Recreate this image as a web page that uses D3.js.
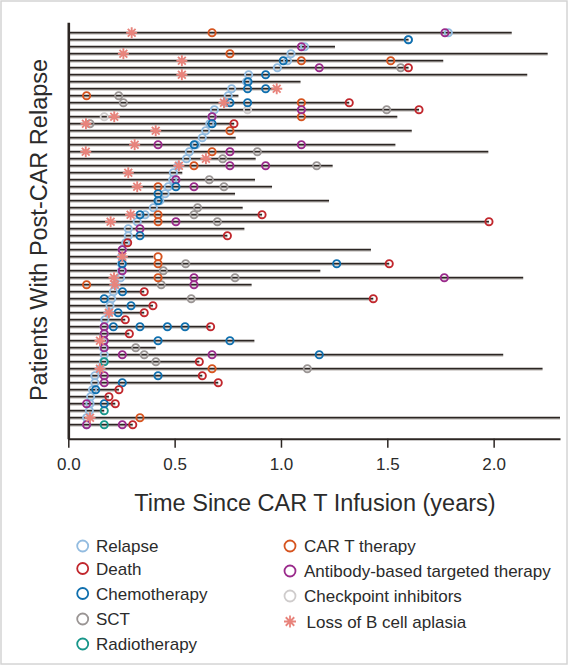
<!DOCTYPE html>
<html>
<head>
<meta charset="utf-8">
<script src="https://cdn.jsdelivr.net/npm/d3@7"></script>
<style>
  body { margin: 0; background: #fff; }
  text { font-family: "Liberation Sans", Arial, sans-serif; fill: #2b2b2b; }
</style>
</head>
<body>
<script>
// follow-up per patient (years), top row first
var rowEnd = [2.085, 1.60, 1.254, 2.254, 1.763, 1.60, 2.158, 1.092, 0.99, 0.80,
    1.321, 1.649, 1.547, 0.78, 1.615, 0.787, 1.538, 1.975, 0.881, 1.243,
    0.536, 0.878, 0.958, 0.784, 1.226, 0.820, 0.911, 1.978, 0.828, 0.748,
    0.28, 1.423, 0.40, 1.509, 1.185, 2.139, 0.862, 0.357, 1.434, 0.398,
    0.357, 0.268, 0.669, 0.287, 0.875, 0.411, 2.045, 0.616, 2.230, 0.630,
    0.705, 0.238, 0.191, 0.221, 0.169, 2.312, 0.303];

// relapse time for each row
var relapse = [1.787, 1.599, 1.111, 1.047, 1.031, 0.983, 0.848, 0.838, 0.768, 0.752,
    0.74, 0.687, 0.676, 0.665, 0.646, 0.630, 0.60, 0.569, 0.556, 0.517,
    0.494, 0.491, 0.470, 0.455, 0.43, 0.400, 0.361, 0.324, 0.282, 0.282,
    0.27, 0.254, 0.25, 0.25, 0.25, 0.246, 0.22, 0.212, 0.204, 0.196,
    0.19, 0.172, 0.169, 0.169, 0.165, 0.165, 0.169, 0.165, 0.149, 0.125,
    0.125, 0.114, 0.105, 0.102, 0.099, 0.086, 0.086];

// events as [row, years]
var death = [[5,1.599],[10,1.321],[11,1.649],[13,0.779],[26,0.911],[27,1.978],[29,0.748],
    [30,0.279],[33,1.509],[37,0.357],[38,1.434],[39,0.398],[40,0.357],[41,0.268],[42,0.669],
    [43,0.287],[47,0.616],[49,0.630],[50,0.705],[51,0.238],[52,0.191],[53,0.221],[56,0.303]];
var chemo = [[1,1.599],[4,1.011],[6,0.928],[7,0.845],[8,0.843],[8,0.928],[10,0.760],[10,0.843],
    [13,0.676],[16,0.592],[22,0.506],[23,0.422],[24,0.422],[26,0.337],[29,0.337],[33,0.254],
    [33,1.262],[37,0.255],[38,0.169],[39,0.295],[40,0.234],[42,0.212],[42,0.337],[42,0.466],
    [42,0.549],[44,0.422],[44,0.760],[46,1.180],[49,0.422],[50,0.254],[51,0.129],[53,0.169]];
var sct = [[5,1.563],[9,0.237],[10,0.259],[11,1.497],[13,0.102],[17,0.889],[18,0.726],[19,1.168],
    [21,0.663],[22,0.732],[25,0.608],[26,0.591],[27,0.701],[33,0.552],[34,0.447],[35,0.784],
    [36,0.437],[38,0.578],[45,0.317],[46,0.357],[47,0.412],[48,1.124]];
var radio = [[47,0.169],[54,0.169],[56,0.169]];
var cart = [[0,0.676],[3,0.760],[4,1.096],[4,1.516],[9,0.086],[10,1.096],[12,1.096],[14,0.760],
    [17,0.676],[19,0.591],[22,0.422],[26,0.422],[27,0.422],[32,0.422],[33,0.422],[35,0.422],
    [36,0.086],[48,0.676],[55,0.337]];
var antibody = [[0,1.771],[2,1.096],[5,1.180],[11,1.096],[12,0.676],[16,0.422],[16,1.096],
    [17,0.760],[19,0.760],[19,0.928],[21,0.506],[22,0.591],[27,0.506],[28,0.337],[31,0.254],
    [34,0.254],[35,0.591],[35,1.768],[36,0.591],[42,0.169],[43,0.169],[44,0.169],[45,0.169],
    [46,0.254],[46,0.676],[49,0.169],[50,0.169],[53,0.086],[56,0.086],[56,0.254]];
var checkpoint = [[11,0.843],[12,0.169]];
var bcellLoss = [[0,0.298],[3,0.259],[4,0.534],[6,0.534],[8,0.980],[10,0.732],[12,0.216],
    [13,0.083],[14,0.411],[16,0.312],[17,0.082],[18,0.647],[19,0.52],[20,0.282],[22,0.324],
    [26,0.293],[27,0.199],[32,0.254],[35,0.215],[36,0.219],[40,0.191],[44,0.149],[48,0.149],
    [55,0.102]];

var xTicks = [0, 0.5, 1.0, 1.5, 2.0];

var colors = {
    relapse: "#93bce0", death: "#c1272d", chemo: "#0f6fae", sct: "#9a9594",
    radio: "#17968a", cart: "#d6541f", antibody: "#9a2a8b", checkpoint: "#cfcccc",
    star: "#e8847c"
};

var W = 568, H = 665;
var svg = d3.select("body").append("svg").attr("width", W).attr("height", H);

svg.append("rect")
    .attr("x", 1).attr("y", 1).attr("width", W - 2).attr("height", H - 2)
    .attr("fill", "none").attr("stroke", "#d4d4d4").attr("stroke-width", 1.5);

var x = d3.scaleLinear().domain([0, 2.312]).range([68.3, 560]);
var y = d3.scaleLinear().domain([-1.5, 58]).range([22.2, 438.7]);

// swim lanes
var lanes = svg.append("g");
lanes.selectAll(".shadow")
    .data(rowEnd)
    .enter().append("line")
    .attr("x1", x(0)).attr("x2", function (d) { return x(d); })
    .attr("y1", function (d, i) { return y(i) + 1.3; })
    .attr("y2", function (d, i) { return y(i) + 1.3; })
    .attr("stroke", "#b3aeaa").attr("stroke-width", 1.2);
lanes.selectAll(".lane")
    .data(rowEnd)
    .enter().append("line")
    .attr("x1", x(0)).attr("x2", function (d) { return x(d); })
    .attr("y1", function (d, i) { return y(i); })
    .attr("y2", function (d, i) { return y(i); })
    .attr("stroke", "#2c2623").attr("stroke-width", 1.8);

// axes
var xAxis = d3.axisBottom(x)
    .tickValues(xTicks)
    .tickFormat(d3.format(".1f"))
    .tickSize(9)
    .tickSizeOuter(0)
    .tickPadding(10);

var gx = svg.append("g")
    .attr("transform", "translate(0," + y(58) + ")")
    .call(xAxis);
gx.select(".domain").attr("stroke", "#2c2623").attr("stroke-width", 2);
gx.selectAll(".tick line").attr("stroke", "#2c2623").attr("stroke-width", 1.5);
gx.selectAll(".tick text").style("font-size", "17px").attr("fill", "#2b2b2b")
    .style("font-family", "'Liberation Sans', Arial, sans-serif");

var gy = svg.append("g")
    .attr("transform", "translate(" + x(0) + ",0)")
    .call(d3.axisLeft(y).tickValues([]).tickSizeOuter(0));
gy.select(".domain").attr("stroke", "#2c2623").attr("stroke-width", 2.6);

// event markers
var marks = svg.append("g");

function drawCircles(data, color) {
    marks.append("g").selectAll("circle")
        .data(data)
        .enter().append("circle")
        .attr("cx", function (d) { return x(d[1]); })
        .attr("cy", function (d) { return y(d[0]); })
        .attr("r", 3.6)
        .attr("fill", "none")
        .attr("stroke", color)
        .attr("stroke-width", 1.9);
}

drawCircles(relapse.map(function (t, i) { return [i, t]; }), colors.relapse);
drawCircles(sct, colors.sct);
drawCircles(checkpoint, colors.checkpoint);
drawCircles(radio, colors.radio);
drawCircles(cart, colors.cart);
drawCircles(antibody, colors.antibody);
drawCircles(chemo, colors.chemo);
drawCircles(death, colors.death);

function starPath(r) {
    var p = "";
    for (var k = 0; k < 4; k++) {
        var a = k * Math.PI / 4;
        p += "M" + (-r * Math.cos(a)) + "," + (-r * Math.sin(a)) +
            "L" + (r * Math.cos(a)) + "," + (r * Math.sin(a));
    }
    return p;
}

marks.append("g").selectAll("path")
    .data(bcellLoss)
    .enter().append("path")
    .attr("transform", function (d) { return "translate(" + x(d[1]) + "," + y(d[0]) + ")"; })
    .attr("d", starPath(5.5))
    .attr("stroke", colors.star)
    .attr("stroke-width", 1.9)
    .attr("fill", "none");

// axis titles
svg.append("text")
    .attr("x", 315).attr("y", 511)
    .attr("text-anchor", "middle")
    .style("font-size", "23.5px")
    .text("Time Since CAR T Infusion (years)");

svg.append("text")
    .attr("transform", "translate(47,230) rotate(-90)")
    .attr("text-anchor", "middle")
    .style("font-size", "23.5px")
    .text("Patients With Post-CAR Relapse");

// legend
var legendLeft = ["Relapse", "Death", "Chemotherapy", "SCT", "Radiotherapy"];
var legendLeftKeys = ["relapse", "death", "chemo", "sct", "radio"];
var legendLeftY = [546, 568.5, 593.5, 619, 644];
var legendRight = ["CAR T therapy", "Antibody-based targeted therapy", "Checkpoint inhibitors", "Loss of B cell aplasia"];
var legendRightKeys = ["cart", "antibody", "checkpoint", "star"];
var legendRightY = [546, 571, 596, 621.5];

var leg = svg.append("g");
legendLeft.forEach(function (label, i) {
    leg.append("circle")
        .attr("cx", 82.7).attr("cy", legendLeftY[i]).attr("r", 5.5)
        .attr("fill", "none").attr("stroke", colors[legendLeftKeys[i]]).attr("stroke-width", 1.8);
    leg.append("text")
        .attr("x", 96).attr("y", legendLeftY[i]).attr("dy", "0.36em")
        .style("font-size", "17px").text(label);
});
legendRight.forEach(function (label, i) {
    var key = legendRightKeys[i];
    if (key === "star") {
        leg.append("path")
            .attr("transform", "translate(290," + legendRightY[i] + ")")
            .attr("d", starPath(6))
            .attr("stroke", colors.star).attr("stroke-width", 1.8).attr("fill", "none");
    } else {
        leg.append("circle")
            .attr("cx", 290).attr("cy", legendRightY[i]).attr("r", 5.5)
            .attr("fill", "none").attr("stroke", colors[key]).attr("stroke-width", 1.8);
    }
    leg.append("text")
        .attr("x", key === "star" ? 306.5 : 304).attr("y", legendRightY[i]).attr("dy", "0.36em")
        .style("font-size", "17px").text(label);
});
</script>
</body>
</html>
